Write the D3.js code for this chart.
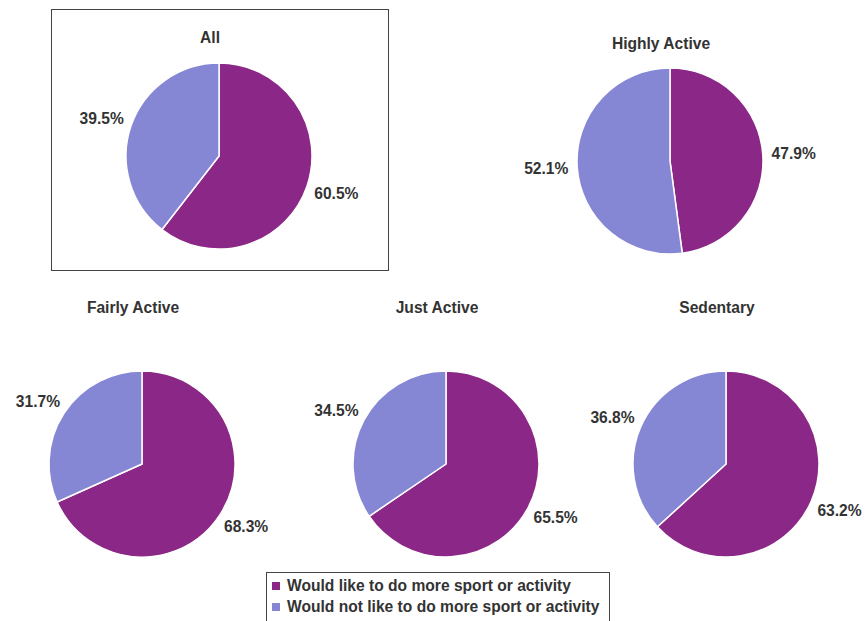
<!DOCTYPE html>
<html>
<head>
<meta charset="utf-8">
<script src="https://cdn.jsdelivr.net/npm/d3@7"></script>
<style>
  html, body { margin: 0; padding: 0; background: #fff; }
  svg { display: block; }
  text { font-family: "Liberation Sans", Arial, sans-serif; font-weight: bold; fill: #333; }
</style>
</head>
<body>
<svg id="chart" width="865" height="621"></svg>
<script>
// ---- Data ----
const groups = ["All", "Highly Active", "Fairly Active", "Just Active", "Sedentary"];
const wouldLike = [60.5, 47.9, 68.3, 65.5, 63.2];
const wouldNotLike = [39.5, 52.1, 31.7, 34.5, 36.8];
const seriesNames = ["Would like to do more sport or activity", "Would not like to do more sport or activity"];
const seriesColors = ["#8B2786", "#8587D5"];

// ---- Layout ----
const W = 865, H = 621;
const R = 93;
const labelRx = 124, labelRy = 115;
const FS = "15.6px";
const layout = [
  { cx: 219, cy: 156, ty: 43 },
  { cx: 670, cy: 161, ty: 49 },
  { cx: 142, cy: 464, ty: 313 },
  { cx: 446, cy: 464, ty: 313 },
  { cx: 726, cy: 464, ty: 313 }
];

const svg = d3.select("#chart");
svg.append("rect").attr("width", W).attr("height", H).attr("fill", "#fff");

// Frame around "All"
svg.append("rect")
  .attr("x", 51.5).attr("y", 9.5).attr("width", 337).attr("height", 261)
  .attr("fill", "none").attr("stroke", "#444").attr("stroke-width", 1);

const color = d3.scaleOrdinal().domain(seriesNames).range(seriesColors);
const pie = d3.pie().sort(null).value(d => d.value);
const arc = d3.arc().innerRadius(0).outerRadius(R);
const labelArc = d3.arc().innerRadius(labelRx).outerRadius(labelRx);

groups.forEach((g, i) => {
  const pos = layout[i];
  const data = [
    { name: seriesNames[0], value: wouldLike[i] },
    { name: seriesNames[1], value: wouldNotLike[i] }
  ];
  const gEl = svg.append("g").attr("transform", `translate(${pos.cx},${pos.cy})`);
  const arcs = pie(data);
  gEl.selectAll("path").data(arcs).join("path")
    .attr("d", arc)
    .attr("fill", d => color(d.data.name))
    .attr("stroke", "#fff")
    .attr("stroke-width", 1.5)
    .attr("stroke-linejoin", "round");
  gEl.selectAll("text.lbl").data(arcs).join("text")
    .attr("class", "lbl")
    .attr("transform", d => {
      const [x, y] = labelArc.centroid(d);
      return `translate(${x},${y * labelRy / labelRx})`;
    })
    .attr("text-anchor", "middle")
    .attr("dy", "0.35em")
    .style("font-size", FS)
    .text(d => d3.format(".1f")(d.data.value) + "%");
  svg.append("text")
    .attr("x", pos.cx - 9).attr("y", pos.ty)
    .attr("text-anchor", "middle")
    .style("font-size", FS)
    .text(g);
});

// Legend
const lg = svg.append("g");
lg.append("rect")
  .attr("x", 266.5).attr("y", 572.5).attr("width", 343).attr("height", 60)
  .attr("fill", "#fff").attr("stroke", "#444").attr("stroke-width", 1);
seriesNames.forEach((s, i) => {
  const y = 586 + i * 21;
  lg.append("rect").attr("x", 272).attr("y", y - 4).attr("width", 8).attr("height", 8)
    .attr("fill", color(s));
  lg.append("text").attr("x", 287).attr("y", y).attr("dy", "0.35em")
    .style("font-size", FS).text(s);
});
</script>
</body>
</html>
